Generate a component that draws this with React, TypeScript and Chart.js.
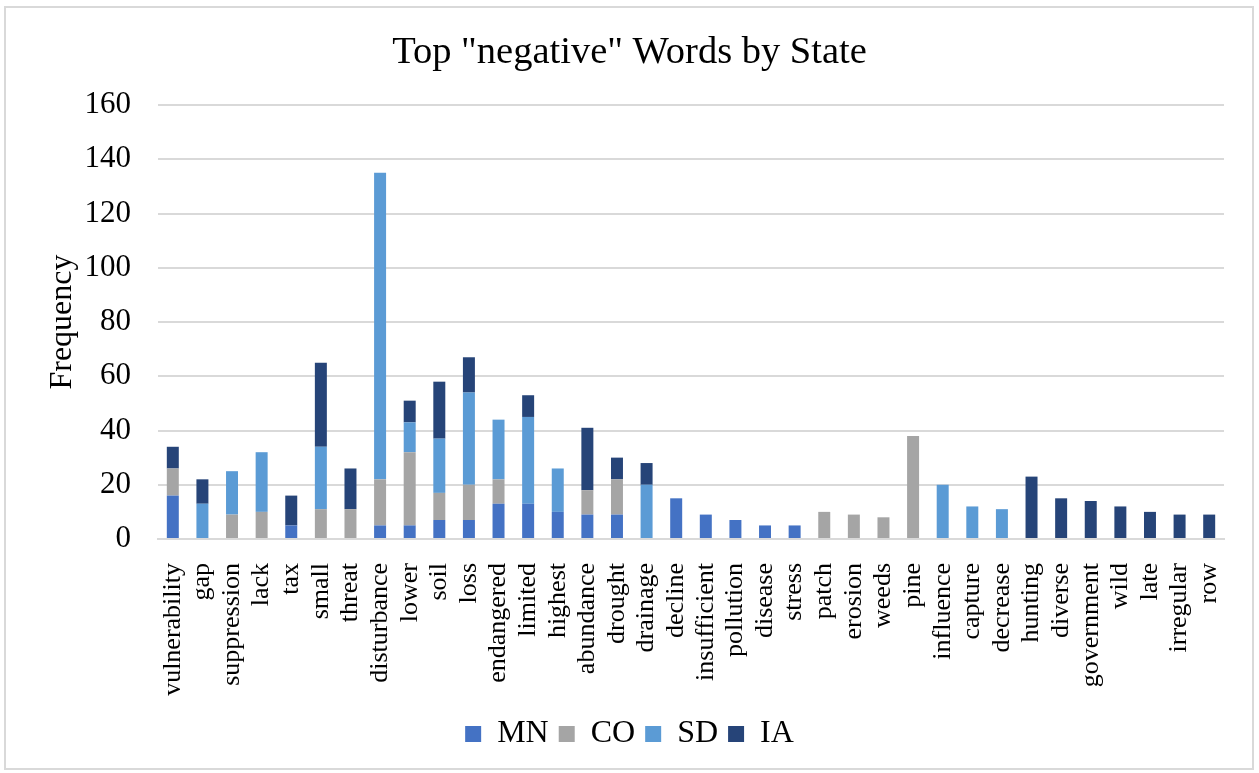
import { useEffect, useRef } from "react";
import { Chart, registerables } from "chart.js";

Chart.register(...registerables);

// Word categories along the x axis
const words = [
  "vulnerability", "gap", "suppression", "lack", "tax", "small", "threat",
  "disturbance", "lower", "soil", "loss", "endangered", "limited", "highest",
  "abundance", "drought", "drainage", "decline", "insufficient", "pollution",
  "disease", "stress", "patch", "erosion", "weeds", "pine", "influence",
  "capture", "decrease", "hunting", "diverse", "government", "wild", "late",
  "irregular", "row",
];

// Word frequencies per state
const mnCounts = [16, 0, 0, 0, 5, 0, 0, 5, 5, 7, 7, 13, 13, 10, 9, 9, 0, 15, 9, 7, 5, 5, 0, 0, 0, 0, 0, 0, 0, 0, 0, 0, 0, 0, 0, 0];
const coCounts = [10, 0, 9, 10, 0, 11, 11, 17, 27, 10, 13, 9, 0, 0, 9, 13, 0, 0, 0, 0, 0, 0, 10, 9, 8, 38, 0, 0, 0, 0, 0, 0, 0, 0, 0, 0];
const sdCounts = [0, 13, 16, 22, 0, 23, 0, 113, 11, 20, 34, 22, 32, 16, 0, 0, 20, 0, 0, 0, 0, 0, 0, 0, 0, 0, 20, 12, 11, 0, 0, 0, 0, 0, 0, 0];
const iaCounts = [8, 9, 0, 0, 11, 31, 15, 0, 8, 21, 13, 0, 8, 0, 23, 8, 8, 0, 0, 0, 0, 0, 0, 0, 0, 0, 0, 0, 0, 23, 15, 14, 12, 10, 9, 9];

const stateNames = ["MN", "CO", "SD", "IA"];
const stateColors = ["#4472C4", "#A5A5A5", "#5B9BD5", "#264478"];

// Y axis range
const yMin = 0;
const yMax = 160;
const yStep = 20;

const SERIF = '"Liberation Serif", "Times New Roman", "DejaVu Serif", serif';

export default function App() {
  const canvasRef = useRef<HTMLCanvasElement>(null);

  useEffect(() => {
    const canvas = canvasRef.current;
    if (!canvas) return;
    const series = [mnCounts, coCounts, sdCounts, iaCounts];
    const chart = new Chart(canvas, {
      type: "bar",
      data: {
        labels: words,
        datasets: series.map((values, i) => ({
          label: stateNames[i],
          data: values,
          backgroundColor: stateColors[i],
          borderWidth: 0,
          categoryPercentage: 1,
          barPercentage: 0.405,
        })),
      },
      options: {
        responsive: false,
        animation: false,
        devicePixelRatio: 1,
        layout: { padding: { left: 35, right: 35, top: 0, bottom: 13 } },
        plugins: {
          title: {
            display: true,
            text: 'Top "negative" Words by State',
            color: "#000",
            font: { family: SERIF, size: 38.5, weight: "normal" },
            padding: { top: 29.5, bottom: 29.3 },
          },
          legend: {
            position: "bottom",
            labels: {
              boxWidth: 16,
              boxHeight: 16,
              padding: 10,
              color: "#000",
              font: { family: SERIF, size: 32 },
            },
          },
          tooltip: { enabled: false },
        },
        scales: {
          x: {
            stacked: true,
            grid: { display: false },
            border: { color: "#d9d9d9", width: 2 },
            ticks: {
              autoSkip: false,
              minRotation: 90,
              maxRotation: 90,
              padding: 16,
              color: "#000",
              font: { family: SERIF, size: 26 },
            },
            afterFit: (scale: any) => {
              scale.height = 169;
            },
          },
          y: {
            stacked: true,
            min: yMin,
            max: yMax,
            ticks: {
              stepSize: yStep,
              padding: 27,
              color: "#000",
              font: { family: SERIF, size: 31 },
            },
            grid: { color: "#d9d9d9", lineWidth: 2, drawTicks: false },
            border: { display: false },
            title: {
              display: true,
              text: "Frequency",
              color: "#000",
              font: { family: SERIF, size: 32 },
              padding: { top: 8, bottom: 0 },
            },
            afterFit: (scale: any) => {
              scale.width = 123;
            },
          },
        },
      },
    });
    return () => chart.destroy();
  }, []);

  return (
    <div style={{ position: "fixed", left: 0, top: 0, width: 1259, height: 773, background: "#fff" }}>
      <div
        style={{
          position: "absolute",
          left: 4,
          top: 6,
          width: 1246,
          height: 760,
          border: "2px solid #d9d9d9",
        }}
      />
      <canvas
        ref={canvasRef}
        width={1259}
        height={773}
        style={{ position: "absolute", left: 0, top: 0 }}
      />
    </div>
  );
}
